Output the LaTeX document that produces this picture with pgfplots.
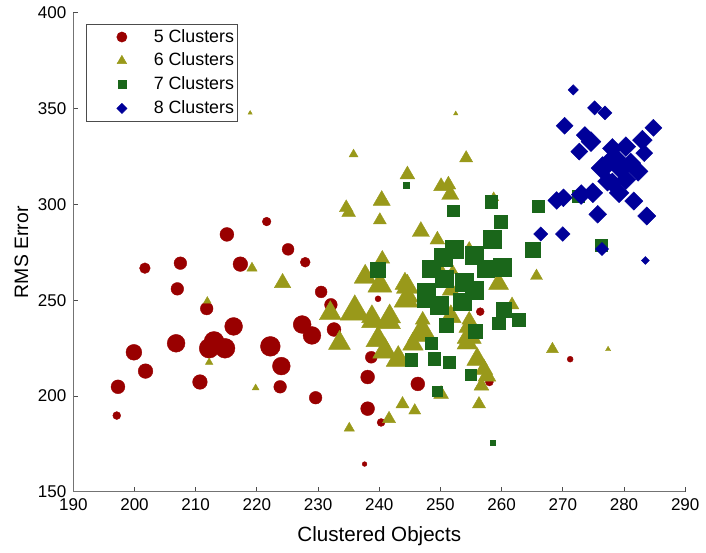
\documentclass[border=0pt]{standalone}
\usepackage{pgfplots}
\usepackage{pgfplotstable}
\pgfplotsset{compat=1.18}
\usepackage{fontspec}
\setmainfont{Liberation Sans}

\definecolor{cfive}{RGB}{153,0,0}
\definecolor{csix}{RGB}{153,153,26}
\definecolor{cseven}{RGB}{26,102,26}
\definecolor{ceight}{RGB}{0,0,153}

% diamond with equal width and height (half-diagonal = mark size)
\pgfdeclareplotmark{sqdiamond*}{%
  \pgfpathmoveto{\pgfqpoint{0pt}{\pgfplotmarksize}}%
  \pgfpathlineto{\pgfqpoint{\pgfplotmarksize}{0pt}}%
  \pgfpathlineto{\pgfqpoint{0pt}{-\pgfplotmarksize}}%
  \pgfpathlineto{\pgfqpoint{-\pgfplotmarksize}{0pt}}%
  \pgfpathclose
  \pgfusepathqfillstroke}

% columns: x = clustered objects, y = RMS error, s = marker size (pt)
\pgfplotstableread{
x y s
197.1 189.8 2.0
197.3 204.8 3.5
199.9 222.8 4.0
201.8 213.0 3.7
201.7 266.7 2.7
207.5 269.3 3.2
207.0 255.9 3.2
206.8 227.5 4.5
210.7 207.3 3.7
211.8 245.6 3.2
212.2 224.9 5.0
213.0 228.5 5.0
214.8 224.9 5.0
215.1 284.3 3.5
216.2 236.3 4.5
217.3 268.8 3.7
221.6 291.0 2.2
222.2 225.9 5.0
223.8 204.8 3.2
224.0 215.6 4.5
225.1 276.5 3.0
227.4 237.3 4.5
227.9 269.8 2.5
229.0 231.6 4.5
229.6 199.1 3.2
230.5 254.3 3.0
232.1 247.6 3.2
232.6 234.7 3.5
238.7 220.2 3.0
238.1 209.9 3.5
238.1 193.4 3.5
246.3 206.3 3.5
256.5 244.0 2.0
258.0 207.3 2.0
240.3 186.2 2.0
237.6 164.5 1.2
271.2 219.2 1.5
239.8 250.7 1.5
}\fiveclusters

\pgfplotstableread{
x y s
211.9 249.6 2.2
212.2 217.6 2.2
219.8 204.2 2.0
219.2 266.7 3.0
224.2 259.0 4.8
218.9 347.7 1.2
235.8 326.1 2.6
254.2 324.1 3.8
244.6 315.5 4.3
250.1 309.4 4.3
251.3 310.2 4.3
251.6 305.1 5.0
240.4 302.0 5.0
234.6 298.2 4.0
235.0 295.7 4.0
240.1 291.7 3.8
246.8 285.8 5.0
249.5 281.5 4.3
240.5 271.5 4.3
254.7 278.2 2.3
237.7 262.1 6.4
240.1 257.8 7.0
244.6 256.9 6.4
244.4 250.0 7.0
232.0 243.1 6.4
236.0 244.0 8.5
238.8 241.4 6.0
241.7 241.4 6.4
247.1 239.7 4.3
254.7 239.7 4.3
238.8 238.8 6.0
241.5 238.8 7.0
233.5 227.6 6.4
239.8 229.4 7.0
240.9 223.4 7.0
243.1 219.1 7.0
247.0 232.8 8.5
251.7 241.4 6.0
254.7 236.3 6.0
254.4 227.6 6.0
256.0 219.1 6.0
257.1 213.9 5.2
257.6 210.4 5.2
256.7 205.3 4.3
256.3 195.8 3.8
250.1 201.0 4.3
243.8 195.8 3.8
245.8 192.4 3.5
241.6 188.1 3.8
235.1 183.2 3.0
261.7 247.5 4.0
268.3 224.4 3.5
277.4 224.4 1.5
265.7 262.6 3.5
252.5 347.3 1.3
258.7 303.4 3.0
244.2 258.6 5.8
259.5 258.6 5.8
244.7 252.0 5.8
251.7 255.2 5.0
254.7 231.1 7.0
245.5 227.0 6.0
252.0 265.5 3.0
250.1 266.3 3.0
}\sixclusters

\pgfplotstableread{
x y s
244.4 309.9 1.5
252.1 296.7 3.0
258.3 301.3 3.2
259.8 290.9 3.2
258.4 281.8 4.5
239.8 266.1 3.8
265.1 276.4 3.8
266.0 299.1 3.0
272.5 304.3 3.0
276.2 278.5 3.0
252.2 276.7 4.5
255.5 273.3 4.5
250.4 272.4 4.5
248.5 266.4 4.5
257.4 266.4 4.5
260.1 267.3 4.5
250.6 261.2 4.5
253.9 259.5 4.5
247.7 254.3 4.5
255.5 255.2 4.5
253.6 249.2 4.5
249.8 247.5 4.5
260.3 244.9 3.8
259.5 238.0 3.2
262.8 239.7 3.2
250.9 237.1 3.5
255.7 233.7 3.5
248.5 227.6 3.2
245.2 219.1 3.2
249.0 219.4 3.2
251.4 217.7 3.0
247.4 250.4 3.8
254.9 211.3 2.8
249.4 202.7 2.5
258.6 175.7 1.2
}\sevenclusters

\pgfplotstableread{
x y s
271.7 359.7 2.6
275.2 350.3 3.6
276.9 347.7 3.5
270.3 341.0 4.3
284.8 339.9 4.3
273.6 336.1 4.3
274.6 332.7 5.0
272.7 327.5 4.3
280.3 330.1 5.0
283.0 333.5 5.0
283.3 326.7 4.3
278.4 324.1 5.8
276.5 318.9 5.8
279.5 318.9 5.8
281.1 321.5 5.0
282.3 317.2 5.0
277.3 312.0 5.0
279.2 306.0 5.0
273.0 305.1 5.0
274.9 306.0 5.0
269.0 302.0 4.5
270.1 303.4 4.5
281.6 301.7 4.6
275.7 294.8 4.5
283.7 293.9 4.6
266.4 284.5 3.6
270.0 284.5 3.7
276.4 276.7 3.3
283.5 270.7 2.0
278.1 329.2 5.0
280.3 312.9 5.0
278.1 311.2 5.0
}\eightclusters

\pgfplotsset{
  sized marks/.style={only marks, scatter, forget plot,
    scatter/use mapped color={draw=#1, fill=#1},
    line width=0.2pt,
    visualization depends on={\thisrow{s}\as\msz},
    scatter/@pre marker code/.append style={/tikz/mark size=\msz}},
  key mark/.style={only marks, line width=0.2pt,
    legend image code/.code={\path (0pt,0pt) (32pt,0pt);
      \draw[##1] plot coordinates {(18pt,0pt)};}},
}

\begin{document}
\begin{tikzpicture}
\begin{axis}[
  scale only axis,
  width=309pt, height=242pt,
  xmin=190, xmax=290, ymin=150, ymax=400,
  xtick={190,200,...,290}, ytick={150,200,...,400},
  axis x line*=bottom, axis y line*=left,
  axis line style={black!55, line width=0.5pt},
  tick align=inside, major tick length=2.5pt,
  tick style={black!70, line width=0.5pt},
  /pgf/number format/assume math mode=true,
  tick label style={font=\fontsize{8.6}{10}\selectfont},
  xlabel style={font=\fontsize{10.4}{12}\selectfont, yshift=-1pt},
  ylabel style={font=\fontsize{9.8}{11}\selectfont, yshift=-2pt},
  xlabel={Clustered Objects}, ylabel={RMS Error},
  legend style={at={(0.02,0.977)}, anchor=north west,
    draw=black!70, line width=0.5pt, inner xsep=0pt, inner ysep=0.5pt,
    font=\fontsize{9}{11}\selectfont, row sep=0pt},
  legend cell align=left,
]
\addplot[sized marks=cfive, mark=*] table[x=x, y=y] {\fiveclusters};
\addplot[sized marks=csix, mark=triangle*] table[x=x, y=y] {\sixclusters};
\addplot[sized marks=cseven, mark=square*] table[x=x, y=y] {\sevenclusters};
\addplot[sized marks=ceight, mark=sqdiamond*] table[x=x, y=y] {\eightclusters};

\addlegendimage{key mark, mark=*, draw=cfive, fill=cfive, mark size=2.6pt}
\addlegendentry{5 Clusters}
\addlegendimage{key mark, mark=triangle*, draw=csix, fill=csix, mark size=2.8pt}
\addlegendentry{6 Clusters}
\addlegendimage{key mark, mark=square*, draw=cseven, fill=cseven, mark size=2pt}
\addlegendentry{7 Clusters}
\addlegendimage{key mark, mark=sqdiamond*, draw=ceight, fill=ceight, mark size=2.6pt}
\addlegendentry{8 Clusters}
\end{axis}
% blank margin to the left of the axis label
\path (current bounding box.west) ++(-4pt,0pt);
\end{tikzpicture}
\end{document}
